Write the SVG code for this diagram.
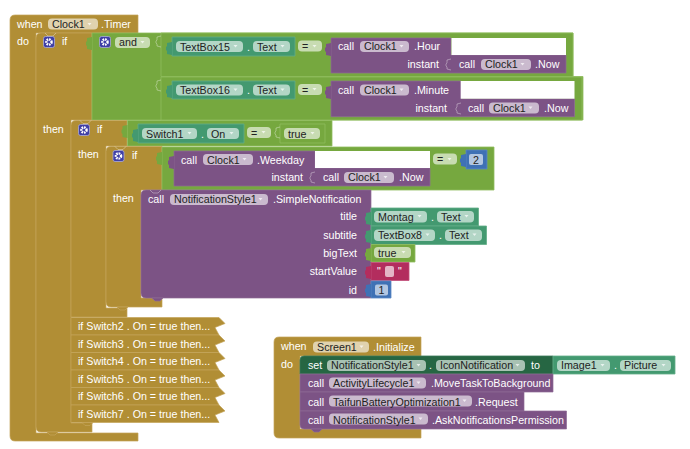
<svg xmlns="http://www.w3.org/2000/svg" width="690" height="449" viewBox="0 0 690 449">
<style>
text{font-family:"Liberation Sans",Arial,sans-serif;font-size:10.7px}
.l{fill:#fff}.d{fill:#222}
.e{text-anchor:end}
.f{fill:#fff;fill-opacity:.6}
.b{fill:#b18e35;stroke:#c4a55a;stroke-width:.7}
.g{fill:#76a83f;stroke:#8fbc5e;stroke-width:.8}
.t{fill:#439970;stroke:#62ad88;stroke-width:.8}
.s{fill:#266643;stroke:#3b7a58;stroke-width:.8}
.p{fill:#7c5385;stroke:#8f6b97;stroke-width:.7}
.m{fill:#3f71b5;stroke:#5a88c4;stroke-width:.8}
.r{fill:#b32d5e;stroke:#c24f79;stroke-width:.8}
.w{fill:#fff}
.a{fill:#fff;fill-opacity:.7}
.n{fill:none;stroke:#fff;stroke-opacity:.45;stroke-width:.8}
.ic{fill:#3f3fa6;stroke:#a9a9d8;stroke-width:.8}
.cog{fill:none;stroke:#fff;stroke-width:2.4;stroke-dasharray:1.6 .8}
</style>
<defs>
<path id="ar" d="M.5,0h4l-2,2.500z"/>
<path id="tabg" d="M0,0l-5,1v3l-1,1v3l1,1v3l5,1z"/>
<path id="nt" class="n" d="M0,0l3,3h5l3-3"/>
<path id="sk" class="n" d="M0,0l-4,1v3l-1,1v2l1,1v2l4,1"/>
<g id="cogi"><rect class="ic" x="-5.5" y="-5.5" width="11" height="11" rx="2"/><circle class="cog" r="2.6"/></g>
<path id="col" class="b" d="M71,0H219L225,6L215,10L219,17.5H71Z"/>
</defs>

<g id="when-clock-timer">
<path class="b" d="M10,20q0-5 5-5H138V33H36V433H138V441H15q-5,0-5-5Z"/>
<text class="l" x="17" y="28">when</text><rect class="f" x="48" y="18.500" width="50" height="11" rx="4"/><text class="d" x="52" y="28">Clock1</text><use href="#ar" x="87" y="23" class="a"/><text class="l" x="101" y="28">.Timer</text>
<text class="l" x="17" y="45">do</text>
</g>

<g id="if-outer">
<path class="b" d="M41,33H92V120H71V423H92V432H41q-5,0-5-5V38q0-5 5-5Z"/>
<path class="b" d="M47,432l3,3h5l3-3z"/>
<use href="#nt" x="45" y="33"/>
<use href="#cogi" x="49" y="42"/>
<text class="l" x="62" y="45">if</text>
<text class="l" x="43" y="133">then</text>
</g>

<g id="and-block">
<path class="g" d="M92,33H573V76.500H583V120H92Z"/>
<path class="g" d="M161,33H573V76.500H161Z"/>
<path class="g" d="M161,77H582V120H161Z"/>
<use href="#tabg" x="92" y="37" fill="#76a83f"/>
<use href="#sk" x="161" y="36"/><use href="#sk" x="161" y="80"/>
<use href="#cogi" x="105" y="42"/>
<rect class="f" x="115" y="37" width="35" height="11" rx="4"/><text class="d" x="119" y="46">and</text><use href="#ar" x="140" y="41" class="a"/>
</g>

<g id="compare-hour">
<path class="t" d="M172,37H295V56H172Z"/><use href="#tabg" x="172" y="42" fill="#439970"/>
<rect class="f" x="176" y="41" width="67" height="11" rx="4"/><text class="d" x="180" y="50.500">TextBox15</text><use href="#ar" x="233" y="45" class="a"/><text class="l" x="247" y="50.500">.</text>
<rect class="f" x="253" y="41" width="37" height="11" rx="4"/><text class="d" x="257" y="50.500">Text</text><use href="#ar" x="280" y="45" class="a"/>
<rect class="f" x="298" y="40.500" width="24" height="11" rx="4"/><text class="d" x="302" y="50">=</text><use href="#ar" x="312" y="45" class="a"/>
<path class="p" d="M331,38H451V55H566V73H331Z"/><use href="#tabg" x="331" y="43" fill="#7c5385"/>
<rect class="w" x="451.500" y="38" width="114.500" height="17"/>
<use href="#sk" x="451" y="59"/>
<text class="l" x="338" y="50">call</text><rect class="f" x="360" y="41" width="49" height="11" rx="4"/><text class="d" x="364" y="50">Clock1</text><use href="#ar" x="399" y="45" class="a"/><text class="l" x="414" y="50">.Hour</text>
<text class="l e" x="439" y="68">instant</text>
<text class="l" x="459" y="68">call</text><rect class="f" x="481" y="59" width="50" height="11" rx="4"/><text class="d" x="485" y="68">Clock1</text><use href="#ar" x="520" y="63" class="a"/><text class="l" x="535" y="68">.Now</text>
</g>

<g id="compare-minute">
<path class="t" d="M172,81H295V99H172Z"/><use href="#tabg" x="172" y="85" fill="#439970"/>
<rect class="f" x="176" y="84.500" width="67" height="11" rx="4"/><text class="d" x="180" y="94">TextBox16</text><use href="#ar" x="233" y="88.500" class="a"/><text class="l" x="247" y="94">.</text>
<rect class="f" x="253" y="84.500" width="37" height="11" rx="4"/><text class="d" x="257" y="94">Text</text><use href="#ar" x="280" y="88.500" class="a"/>
<rect class="f" x="298" y="84" width="24" height="11" rx="4"/><text class="d" x="302" y="93.500">=</text><use href="#ar" x="312" y="88" class="a"/>
<path class="p" d="M331,81H461V98.700H574.500V116.700H331Z"/><use href="#tabg" x="331" y="86" fill="#7c5385"/>
<rect class="w" x="460.700" y="81" width="113.800" height="17.700"/>
<use href="#sk" x="461" y="103"/>
<text class="l" x="338" y="93.500">call</text><rect class="f" x="360" y="84.500" width="49" height="11" rx="4"/><text class="d" x="364" y="93.500">Clock1</text><use href="#ar" x="399" y="88.500" class="a"/><text class="l" x="414" y="93.500">.Minute</text>
<text class="l e" x="447" y="111.500">instant</text>
<text class="l" x="468" y="111.500">call</text><rect class="f" x="489" y="102.500" width="50" height="11" rx="4"/><text class="d" x="493" y="111.500">Clock1</text><use href="#ar" x="528" y="106.500" class="a"/><text class="l" x="544" y="111.500">.Now</text>
</g>

<g id="if-switch1">
<path class="b" d="M76,120.500H127V146H106V308H127V317H71V125.500q0-5 5-5Z"/>
<use href="#nt" x="80" y="120.500"/>
<use href="#cogi" x="84" y="130"/>
<text class="l" x="97" y="133">if</text>
<text class="l" x="78" y="158">then</text>
<path class="g" d="M127.500,120.500H332V146H127.500Z"/><use href="#tabg" x="127.500" y="125" fill="#76a83f"/>
<path class="t" d="M138,124H244V143H138Z"/><use href="#tabg" x="138" y="129" fill="#439970"/>
<rect class="f" x="142" y="128" width="55" height="11" rx="4"/><text class="d" x="146" y="137.500">Switch1</text><use href="#ar" x="187" y="132" class="a"/><text class="l" x="201" y="137.500">.</text>
<rect class="f" x="207" y="128" width="32" height="11" rx="4"/><text class="d" x="211" y="137.500">On</text><use href="#ar" x="229" y="132" class="a"/>
<rect class="f" x="247" y="127" width="24" height="11" rx="4"/><text class="d" x="251" y="136.500">=</text><use href="#ar" x="261" y="131" class="a"/>
<path class="g" d="M280,124H325V143H280Z"/><use href="#sk" x="280" y="127"/>
<rect class="f" x="284" y="128" width="36" height="11" rx="4"/><text class="d" x="288" y="137.500">true</text><use href="#ar" x="310" y="132" class="a"/>
</g>

<g id="if-weekday">
<path class="b" d="M111,146.500H162V190H141V298H162V307H111q-5,0-5-5V151.500q0-5 5-5Z"/>
<path class="b" d="M117,307l3,3h5l3-3z"/>
<use href="#nt" x="115" y="146.500"/>
<use href="#cogi" x="118.500" y="156"/>
<text class="l" x="132" y="159">if</text>
<text class="l" x="113" y="202">then</text>
<path class="g" d="M162,147H494V190H162Z"/><use href="#tabg" x="162" y="152" fill="#76a83f"/>
<path class="p" d="M174,151H315V168H430V186H174Z"/><use href="#tabg" x="174" y="156" fill="#7c5385"/>
<rect class="w" x="315" y="151" width="115" height="17"/>
<use href="#sk" x="315" y="172"/>
<text class="l" x="181" y="163.500">call</text><rect class="f" x="203" y="154" width="50" height="11" rx="4"/><text class="d" x="207" y="163.500">Clock1</text><use href="#ar" x="242" y="158" class="a"/><text class="l" x="257" y="163.500">.Weekday</text>
<text class="l e" x="303" y="181">instant</text>
<text class="l" x="323" y="181">call</text><rect class="f" x="344" y="172" width="50" height="11" rx="4"/><text class="d" x="348" y="181">Clock1</text><use href="#ar" x="383" y="176" class="a"/><text class="l" x="399" y="181">.Now</text>
<rect class="f" x="433" y="153.500" width="24" height="11" rx="4"/><text class="d" x="437" y="163">=</text><use href="#ar" x="447" y="158" class="a"/>
<path class="m" d="M466,150H487V169H466Z"/><use href="#tabg" x="466" y="154" fill="#3f71b5"/>
<rect class="f" x="469" y="154" width="14" height="11" rx="2"/><text class="d" x="473" y="163.500">2</text>
</g>

<g id="simple-notification">
<path class="p" d="M146,190H371V298H146q-5,0-5-5V195q0-5 5-5Z"/>
<path class="p" d="M152,298l3,3h5l3-3z"/>
<use href="#nt" x="150" y="190"/>
<text class="l" x="148" y="203">call</text><rect class="f" x="170" y="194" width="98" height="11" rx="4"/><text class="d" x="174" y="203">NotificationStyle1</text><use href="#ar" x="258" y="198" class="a"/><text class="l" x="273" y="203">.SimpleNotification</text>
<text class="l e" x="357" y="220">title</text>
<text class="l e" x="357" y="239">subtitle</text>
<text class="l e" x="357" y="257">bigText</text>
<text class="l e" x="357" y="275">startValue</text>
<text class="l e" x="357" y="294">id</text>
</g>
<g id="value-montag">
<path class="t" d="M371,208H478.500V226H371Z"/><use href="#tabg" x="371" y="212" fill="#439970"/>
<rect class="f" x="374" y="211" width="53" height="11.500" rx="4"/><text class="d" x="378" y="220.500">Montag</text><use href="#ar" x="417" y="215" class="a"/><text class="l" x="431" y="220.500">.</text>
<rect class="f" x="437" y="211" width="37" height="11.500" rx="4"/><text class="d" x="441" y="220.500">Text</text><use href="#ar" x="464" y="215" class="a"/>
</g>
<g id="value-textbox8">
<path class="t" d="M371,226H486.500V244.500H371Z"/><use href="#tabg" x="371" y="230" fill="#439970"/>
<rect class="f" x="374" y="229.500" width="61" height="11.500" rx="4"/><text class="d" x="378" y="239">TextBox8</text><use href="#ar" x="425" y="233.500" class="a"/><text class="l" x="439" y="239">.</text>
<rect class="f" x="445" y="229.500" width="37" height="11.500" rx="4"/><text class="d" x="449" y="239">Text</text><use href="#ar" x="472" y="233.500" class="a"/>
</g>
<g id="value-true">
<path class="g" d="M371,244.500H415V262H371Z"/><use href="#tabg" x="371" y="248" fill="#76a83f"/>
<rect class="f" x="374" y="247" width="37" height="11" rx="4"/><text class="d" x="378" y="257">true</text><use href="#ar" x="401" y="251" class="a"/>
</g>
<g id="value-text">
<path class="r" d="M371,262.500H409V280.500H371Z"/><use href="#tabg" x="371" y="266" fill="#b32d5e"/>
<text class="l" x="377" y="275">"</text><text class="l" x="398" y="275">"</text>
<rect x="385" y="266" width="9" height="11" rx="2" fill="#fff" fill-opacity=".65"/>
</g>
<g id="value-id">
<path class="m" d="M371,281H391V298H371Z"/><use href="#tabg" x="371" y="284" fill="#3f71b5"/>
<rect class="f" x="375" y="284.500" width="13" height="11" rx="2"/><text class="d" x="378.500" y="294">1</text>
</g>

<g id="if-switch2"><use href="#col" y="317.500"/><text class="l" x="78" y="330">if Switch2 . On = true then...</text></g>
<g id="if-switch3"><use href="#col" y="335"/><text class="l" x="78" y="347.500">if Switch3 . On = true then...</text></g>
<g id="if-switch4"><use href="#col" y="352.500"/><text class="l" x="78" y="365">if Switch4 . On = true then...</text></g>
<g id="if-switch5"><use href="#col" y="370"/><text class="l" x="78" y="382.500">if Switch5 . On = true then...</text></g>
<g id="if-switch6"><use href="#col" y="387.500"/><text class="l" x="78" y="400">if Switch6 . On = true then...</text></g>
<g id="if-switch7"><use href="#col" y="405"/><path class="b" d="M82,422.500l3,3h5l3-3z"/><text class="l" x="78" y="418">if Switch7 . On = true then...</text></g>

<g id="when-screen-initialize">
<path class="b" d="M274,342q0-5 5-5H421V356H300V429H421V438H279q-5,0-5-5Z"/>
<text class="l" x="281" y="350">when</text><rect class="f" x="313" y="341.500" width="56" height="11" rx="4"/><text class="d" x="317" y="350.500">Screen1</text><use href="#ar" x="359" y="345.500" class="a"/><text class="l" x="373" y="350.500">.Initialize</text>
<text class="l" x="281" y="368">do</text>
</g>
<g id="set-icon">
<path class="s" d="M304,356H553V374H300V360q0-4 4-4Z"/>
<text class="l" x="308" y="369">set</text><rect class="f" x="327" y="360" width="99" height="11" rx="4"/><text class="d" x="331" y="369">NotificationStyle1</text><use href="#ar" x="416" y="364" class="a"/><text class="l" x="429" y="369">.</text>
<rect class="f" x="436" y="360" width="89" height="11" rx="4"/><text class="d" x="440" y="369">IconNotification</text><use href="#ar" x="515" y="364" class="a"/><text class="l" x="531" y="369">to</text>
<path class="t" d="M553,356H675V374H553Z"/>
<rect class="f" x="557" y="360" width="53" height="11" rx="4"/><text class="d" x="561" y="369">Image1</text><use href="#ar" x="600" y="364" class="a"/><text class="l" x="614" y="369">.</text>
<rect class="f" x="620" y="360" width="51" height="11" rx="4"/><text class="d" x="624" y="369">Picture</text><use href="#ar" x="661" y="364" class="a"/>
</g>
<g id="call-activity">
<path class="p" d="M300,374H553V392H300Z"/>
<text class="l" x="308" y="387">call</text><rect class="f" x="329" y="377.500" width="97" height="11" rx="4"/><text class="d" x="333" y="387">ActivityLifecycle1</text><use href="#ar" x="416" y="381.500" class="a"/><text class="l" x="431" y="387">.MoveTaskToBackground</text>
</g>
<g id="call-taifun">
<path class="p" d="M300,392H524V411H300Z"/>
<text class="l" x="308" y="405.500">call</text><rect class="f" x="329" y="395.500" width="143" height="11" rx="4"/><text class="d" x="333" y="405.500">TaifunBatteryOptimization1</text><use href="#ar" x="462" y="399.500" class="a"/><text class="l" x="475" y="405.500">.Request</text>
</g>
<g id="call-permission">
<path class="p" d="M300,411H566.500V429H304q-4,0-4-4Z"/>
<path class="p" d="M311,429l3,3h5l3-3z"/>
<text class="l" x="308" y="423.500">call</text><rect class="f" x="329" y="413.500" width="99" height="11" rx="4"/><text class="d" x="333" y="423.500">NotificationStyle1</text><use href="#ar" x="418" y="417.500" class="a"/><text class="l" x="432" y="423.500">.AskNotificationsPermission</text>
</g>
</svg>
